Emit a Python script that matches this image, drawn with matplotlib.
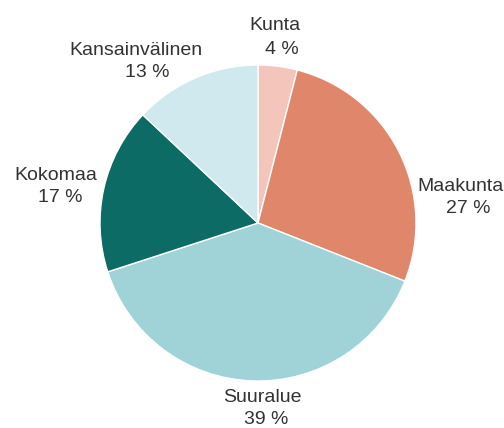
import matplotlib.pyplot as plt

# data
labels = ['Kunta', 'Maakunta', 'Suuralue', 'Kokomaa', 'Kansainvälinen']
shares = [4, 27, 39, 17, 13]
colors = ['#f4c5bb', '#e0866a', '#9fd3d8', '#0c6b64', '#cfe9ef']

# label anchor positions (pie radius = 1): name line, percent line
name_pos = [(0.11, 1.25), (1.28, 0.23), (0.03, -1.105), (-1.28, 0.30), (-0.77, 1.09)]
pct_pos = [(0.15, 1.10), (1.33, 0.09), (0.05, -1.245), (-1.25, 0.16), (-0.70, 0.95)]

plt.rcParams['font.family'] = ['Liberation Sans', 'DejaVu Sans']

fig = plt.figure(figsize=(5.04, 4.28), dpi=100)
ax = fig.add_axes([0, 0, 1, 1])

ax.pie(shares, colors=colors, startangle=90, counterclock=False,
       wedgeprops={'edgecolor': 'white', 'linewidth': 1.0})

for lab, val, (nx, ny), (px, py) in zip(labels, shares, name_pos, pct_pos):
    ax.text(nx, ny, lab, ha='center', va='center', fontsize=14, color='#333333')
    ax.text(px, py, f'{val} %', ha='center', va='center', fontsize=14, color='#333333')

# pie centre at (258, 223) px, radius 158 px
ax.set_aspect('auto')
ax.set_xlim(-258 / 158, (504 - 258) / 158)
ax.set_ylim(-(428 - 223) / 158, 223 / 158)
ax.axis('off')

fig.savefig('out.png', dpi=100)
